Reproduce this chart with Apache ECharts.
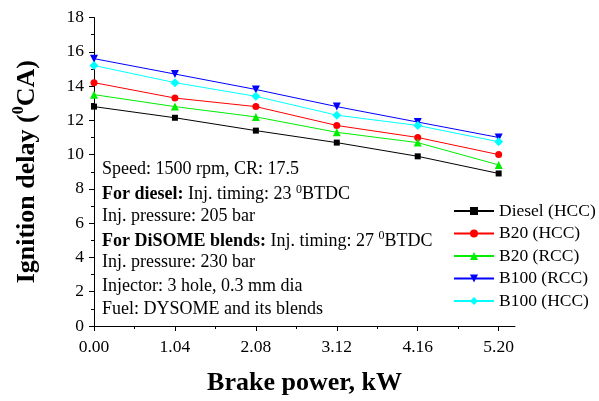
<!DOCTYPE html>
<html>
<head>
<meta charset="utf-8">
<script src="https://cdn.jsdelivr.net/npm/echarts@6/dist/echarts.min.js"></script>
<style>html,body{margin:0;padding:0;background:#fff}#c{width:599px;height:401px}</style>
</head>
<body>
<div id="c"></div>
<script>
const xValues = [0, 1.04, 2.08, 3.12, 4.16, 5.20];
const xTicks = [0, 1.04, 2.08, 3.12, 4.16, 5.20];
const xMinorTicks = [0.52, 1.56, 2.60, 3.64, 4.68];
const seriesNames = ['Diesel (HCC)', 'B20 (HCC)', 'B20 (RCC)', 'B100 (RCC)', 'B100 (HCC)'];
const dieselHCC = [12.8, 12.15, 11.4, 10.7, 9.9, 8.9];
const b20HCC = [14.2, 13.3, 12.8, 11.7, 11.0, 10.0];
const b20RCC = [13.5, 12.8, 12.2, 11.3, 10.7, 9.4];
const b100RCC = [15.6, 14.7, 13.8, 12.8, 11.9, 11.0];
const b100HCC = [15.2, 14.2, 13.4, 12.3, 11.7, 10.75];
const annotationLines = [
  [['n', 'Speed: 1500 rpm, CR: 17.5']],
  [['b', 'For diesel:'], ['n', ' Inj. timing: 23 '], ['s', '0'], ['n', 'BTDC']],
  [['n', 'Inj. pressure: 205 bar']],
  [['b', 'For DiSOME blends:'], ['n', ' Inj. timing: 27 '], ['s', '0'], ['n', 'BTDC']],
  [['n', 'Inj. pressure: 230 bar']],
  [['n', 'Injector: 3 hole, 0.3 mm dia']],
  [['n', 'Fuel: DYSOME and its blends']]
];

const FONT = 'Liberation Serif';
const seriesData = [dieselHCC, b20HCC, b20RCC, b100RCC, b100HCC];
const colors = ['#000000', '#ff0000', '#00ee00', '#0000ff', '#00ffff'];
const symbols = ['rect', 'circle', 'triangle', 'path://M0,0 L10,0 L5,10 Z', 'diamond'];
const sizes = [6, 7, 8, 8, 9];

const richText = {
  n: {fontFamily: FONT, fontSize: 18, color: '#000', lineHeight: 22},
  b: {fontFamily: FONT, fontSize: 18, fontWeight: 'bold', color: '#000', lineHeight: 22},
  s: {fontFamily: FONT, fontSize: 12, color: '#000', lineHeight: 12, verticalAlign: 'top'}
};

const graphics = annotationLines.map((line, i) => ({
  type: 'text',
  left: 102,
  top: 160 + i * 23.4,
  style: {
    text: line.map(t => '{' + t[0] + '|' + t[1] + '}').join(''),
    rich: richText
  },
  z: 10
}));

const chart = echarts.init(document.getElementById('c'), null, {renderer: 'canvas'});
chart.setOption({
  animation: false,
  backgroundColor: '#fff',
  grid: {left: 94, right: 84, top: 17.5, bottom: 72, containLabel: false},
  legend: {
    orient: 'vertical',
    left: 453,
    top: 202,
    padding: 0,
    itemWidth: 40,
    itemHeight: 10,
    itemGap: 4.5,
    data: seriesNames,
    textStyle: {fontFamily: FONT, fontSize: 17.5, color: '#000'}
  },
  xAxis: [{
    type: 'value',
    min: 0,
    max: 5.41,
    interval: 1.04,
    name: 'Brake power, kW',
    nameLocation: 'middle',
    nameGap: 44,
    nameTextStyle: {fontFamily: FONT, fontSize: 26, fontWeight: 'bold', color: '#000'},
    axisLine: {show: true, lineStyle: {color: '#000', width: 1}},
    axisTick: {show: true, length: 5, customValues: xTicks, lineStyle: {color: '#000'}},
    axisLabel: {customValues: xTicks, margin: 12, fontFamily: FONT, fontSize: 17.5, color: '#000',
      formatter: v => v.toFixed(2)},
    splitLine: {show: false}
  }, {
    type: 'value',
    min: 0,
    max: 5.41,
    position: 'bottom',
    axisLine: {show: false},
    axisTick: {show: true, length: 3, customValues: xMinorTicks, lineStyle: {color: '#000'}},
    axisLabel: {show: false},
    splitLine: {show: false}
  }],
  yAxis: {
    type: 'value',
    min: 0,
    max: 18,
    interval: 2,
    name: '{a|Ignition delay (}{s|0}{a|CA)}',
    nameLocation: 'middle',
    nameGap: 51,
    nameTextStyle: {
      rich: {
        a: {fontFamily: FONT, fontSize: 26, fontWeight: 'bold', color: '#000', lineHeight: 32},
        s: {fontFamily: FONT, fontSize: 16, fontWeight: 'bold', color: '#000', lineHeight: 16, verticalAlign: 'top'}
      }
    },
    axisLine: {show: true, lineStyle: {color: '#000', width: 1}},
    axisTick: {show: true, length: 5, lineStyle: {color: '#000'}},
    minorTick: {show: true, splitNumber: 2, length: 3, lineStyle: {color: '#000'}},
    axisLabel: {margin: 10, fontFamily: FONT, fontSize: 17.5, color: '#000'},
    splitLine: {show: false},
    minorSplitLine: {show: false}
  },
  series: seriesNames.map((name, i) => ({
    name: name,
    type: 'line',
    xAxisIndex: 0,
    data: xValues.map((x, j) => [x, seriesData[i][j]]),
    symbol: symbols[i],
    symbolSize: sizes[i],
    showAllSymbol: true,
    lineStyle: {color: colors[i], width: 1},
    itemStyle: {color: colors[i], borderWidth: 0},
    z: 2 + i
  })),
  graphic: graphics
});
</script>
</body>
</html>
